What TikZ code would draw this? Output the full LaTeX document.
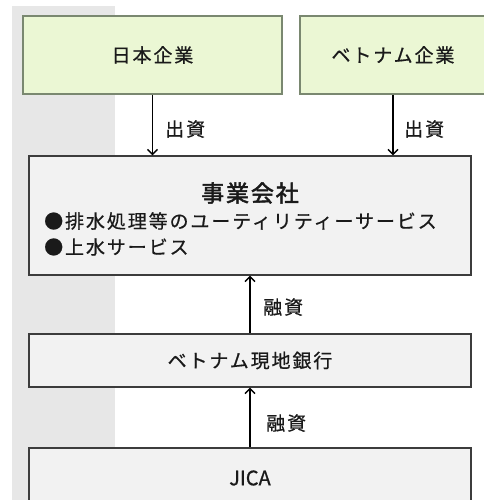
\documentclass[tikz,border=0pt]{standalone}
\usepackage{fontspec}
\newfontfamily\jp{Noto Sans CJK JP}[LetterSpace=10,FakeBold=0.7]
\newfontfamily\jpl{Noto Sans CJK JP}[FakeBold=0.7]
\newfontfamily\jpb{Noto Sans CJK JP}[LetterSpace=8,FakeBold=2.2]
\usetikzlibrary{arrows.meta}
\definecolor{greenfill}{HTML}{EBF7D4}
\definecolor{greenline}{HTML}{7A8870}
\definecolor{grayfill}{HTML}{F2F2F2}
\definecolor{grayline}{HTML}{3C3C3C}
\definecolor{panel}{HTML}{E7E7E7}
\definecolor{txt}{HTML}{1A1A1A}
\begin{document}
\begin{tikzpicture}[x=1pt,y=-1pt,
  greenbox/.style={draw=greenline,fill=greenfill,line width=1.1pt,inner sep=0pt},
  graybox/.style={draw=grayline,fill=grayfill,line width=1.2pt,inner sep=0pt},
  lbl/.style={font=\jp\fontsize{19}{22}\selectfont,text=txt,inner sep=0pt},
  flow/.style={line width=1.4pt,-{Straight Barb[length=5pt,width=10pt,line width=1.4pt]}}
]
\useasboundingbox (0,0) rectangle (483,500);
\fill[white] (0,0) rectangle (483,500);
\fill[panel] (12,6) rectangle (115,500);

\node[greenbox,minimum width=259pt,minimum height=78pt] (jp) at (152.5,55) {};
\node[greenbox,minimum width=186pt,minimum height=78pt] (vn) at (393,55) {};
\node[lbl] (jpt) at (jp.center) {日本企業};
\node[lbl] (vnt) at (vn.center) {ベトナム企業};

\node[graybox,minimum width=442pt,minimum height=119pt] (main) at (250,215.5) {};
\node[lbl,font=\jpb\fontsize{23}{26}\selectfont] (title) at (250,193) {事業会社};
\node[lbl,anchor=west] (l1) at (44,221) {●排水処理等のユーティリティーサービス};
\node[lbl,anchor=west] (l2) at (44,247) {●上水サービス};

\node[graybox,minimum width=442pt,minimum height=53pt] (bank) at (250,360.5) {};
\node[lbl] (bankt) at (bank.center) {ベトナム現地銀行};

\node[graybox,minimum width=442pt,minimum height=70pt] (jica) at (250,483) {};
\node[lbl,font=\jpl\fontsize{20}{22}\selectfont] (jicat) at (250,478) {JICA};

\draw[flow] (jp.south) -- (jp.south |- main.north);
\draw[flow] (vn.south) -- (vn.south |- main.north);
\draw[flow] (bank.north) -- (main.south);
\draw[flow] (jica.north) -- (bank.south);

\node[lbl,anchor=west] (c1) at (165,129) {出資};
\node[lbl,anchor=west] (c2) at (404,129) {出資};
\node[lbl,anchor=west] (f1) at (263,307) {融資};
\node[lbl,anchor=west] (f2) at (266,423) {融資};
\end{tikzpicture}
\end{document}
